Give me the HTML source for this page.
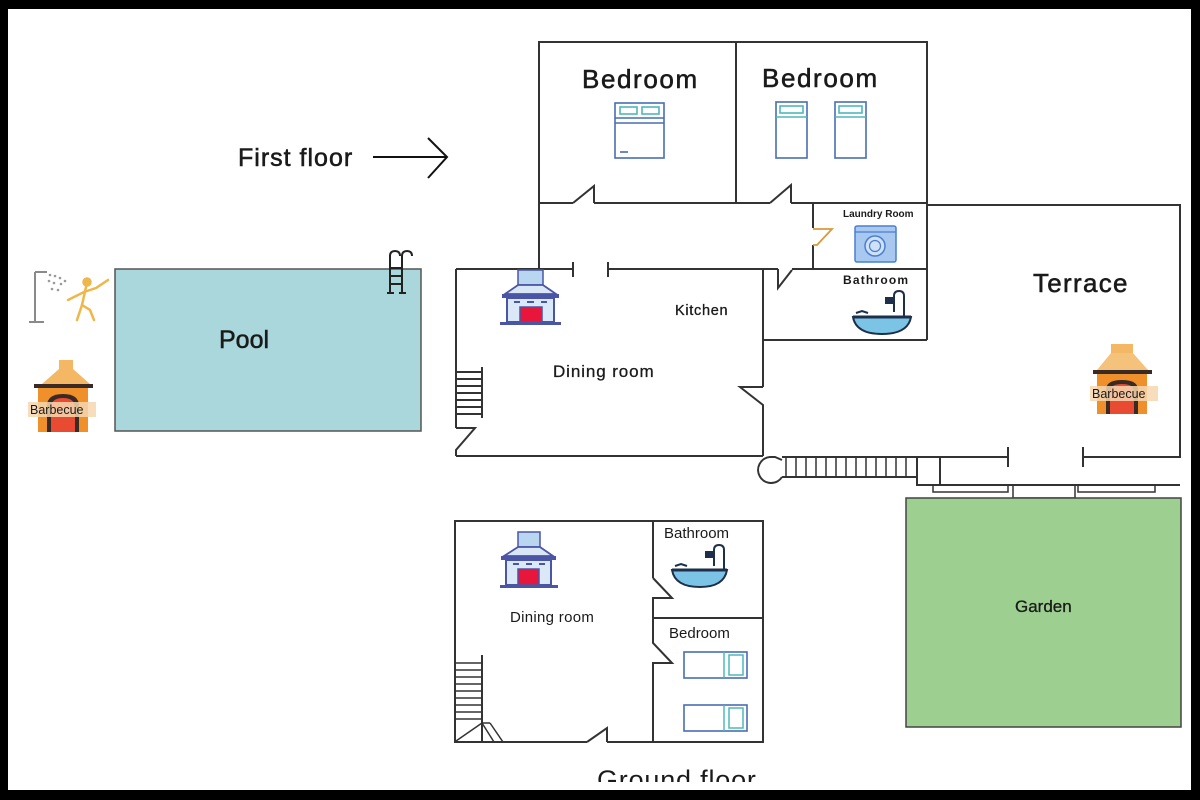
<!DOCTYPE html>
<html><head><meta charset="utf-8"><style>
html,body{margin:0;padding:0;background:#000;}
svg{display:block;}
text{font-family:"Liberation Sans",sans-serif;fill:#1a1a1a;}
.big{stroke:#1a1a1a;stroke-width:0.55;}
.mid{stroke:#1a1a1a;stroke-width:0.3;}
</style></head><body>
<svg width="1200" height="800" viewBox="0 0 1200 800" xmlns="http://www.w3.org/2000/svg">
<defs>
<clipPath id="gclip"><rect x="0" y="700" width="1200" height="82"/></clipPath>
</defs>
<rect x="0" y="0" width="1200" height="800" fill="#000"/>
<rect x="8" y="9" width="1183" height="781" fill="#fff"/>

<!-- First floor label + arrow -->
<text class="big" x="238" y="166" font-size="25" letter-spacing="1">First floor</text>
<line x1="373" y1="157" x2="447" y2="157" stroke="#111" stroke-width="2"/>
<polyline points="428,138 447,157 428,178" fill="none" stroke="#111" stroke-width="2"/>

<!-- Pool -->
<rect x="115" y="269" width="306" height="162" fill="#a9d7dc" stroke="#555" stroke-width="1.5"/>
<text class="big" x="219" y="348" font-size="25">Pool</text>
<!-- ladder -->
<g fill="none" stroke="#222" stroke-width="2">
<path d="M390,293 V256 Q390,251 395,251 Q400,251 400,256"/>
<path d="M402,293 V256 Q402,251 407,251 Q412,251 412,256"/>
<line x1="390" y1="268" x2="402" y2="268"/>
<line x1="390" y1="276" x2="402" y2="276"/>
<line x1="390" y1="284" x2="402" y2="284"/>
<line x1="387" y1="293" x2="394" y2="293"/>
<line x1="399" y1="293" x2="406" y2="293"/>
</g>

<!-- Shower -->
<g stroke="#8a8a8a" stroke-width="2" fill="none">
<line x1="35" y1="272" x2="35" y2="322"/>
<line x1="29" y1="322" x2="44" y2="322"/>
<line x1="35" y1="272" x2="47" y2="272"/>
</g>
<g fill="#9a9a9a">
<circle cx="50" cy="275" r="1.3"/><circle cx="55" cy="276" r="1.3"/><circle cx="60" cy="278" r="1.3"/>
<circle cx="49" cy="281" r="1.3"/><circle cx="54" cy="283" r="1.3"/><circle cx="61" cy="284" r="1.3"/>
<circle cx="52" cy="289" r="1.3"/><circle cx="58" cy="290" r="1.3"/><circle cx="65" cy="281" r="1.3"/>
</g>
<g stroke="#efb64a" stroke-width="2.5" fill="none" stroke-linecap="round">
<circle cx="87" cy="282" r="3.5" fill="#efb64a"/>
<path d="M86,287 L82,305"/>
<path d="M68,300 L84,292 L96,288 L108,280"/>
<path d="M82,305 L77,320"/>
<path d="M82,305 L90,310 L94,320"/>
</g>

<!-- Left barbecue -->
<g>
<rect x="59" y="360" width="14" height="9" fill="#f4b764"/>
<polygon points="59,369 73,369 90,384 42,384" fill="#f4b764"/>
<rect x="34" y="384" width="59" height="4" fill="#3a2a25"/>
<rect x="38" y="388" width="50" height="44" fill="#f0902a"/>
<path d="M47,432 V406 Q47,394 63,394 Q79,394 79,406 V432 Z" fill="#3a2a25"/>
<path d="M51,432 V408 Q51,398 63,398 Q75,398 75,408 V432 Z" fill="#e84a32"/>
<rect x="28" y="402" width="68" height="15" fill="#f6d7b0" opacity="0.85"/>
<text x="30" y="414" font-size="12.5" fill="#222">Barbecue</text>
</g>

<!-- ===== FIRST FLOOR PLAN ===== -->
<g stroke="#333" stroke-width="2" fill="none">
<polyline points="539,203 539,42 927,42 927,340"/>
<line x1="736" y1="42" x2="736" y2="203"/>
<line x1="539" y1="203" x2="573" y2="203"/>
<polyline points="573,203 594,186 594,203"/>
<line x1="594" y1="203" x2="770" y2="203"/>
<polyline points="770,203 791,185 791,203"/>
<line x1="791" y1="203" x2="927" y2="203"/>
<line x1="539" y1="203" x2="539" y2="269"/>
<line x1="456" y1="269" x2="573" y2="269"/>
<line x1="573" y1="262" x2="573" y2="277"/>
<line x1="608" y1="262" x2="608" y2="277"/>
<line x1="608" y1="269" x2="778" y2="269"/>
<polyline points="778,269 778,288 792,270"/>
<line x1="792" y1="269" x2="927" y2="269"/>
<line x1="813" y1="204" x2="813" y2="228"/>
<line x1="813" y1="245" x2="813" y2="269"/>
<line x1="763" y1="340" x2="927" y2="340"/>
<line x1="456" y1="269" x2="456" y2="428"/>
<polyline points="456,428 475,428 456,450 456,456"/>
<line x1="456" y1="456" x2="763" y2="456"/>
<line x1="763" y1="269" x2="763" y2="387"/>
<polyline points="763,387 740,387 763,405 763,456"/>
<line x1="482" y1="367" x2="482" y2="418"/>
<line x1="456" y1="372" x2="482" y2="372"/>
<line x1="456" y1="379" x2="482" y2="379"/>
<line x1="456" y1="386" x2="482" y2="386"/>
<line x1="456" y1="393" x2="482" y2="393"/>
<line x1="456" y1="400" x2="482" y2="400"/>
<line x1="456" y1="407" x2="482" y2="407"/>
<line x1="456" y1="414" x2="482" y2="414"/>
<polyline points="927,205 1180,205 1180,457 1083,457"/>
<line x1="1083" y1="447" x2="1083" y2="467"/>
<line x1="1008" y1="447" x2="1008" y2="467"/>
<line x1="1008" y1="457" x2="917" y2="457"/>
<path d="M782,460 L775,457 L770,457 A13,13 0 1,0 782,477"/>
<line x1="782" y1="457" x2="917" y2="457"/>
<line x1="782" y1="477" x2="917" y2="477"/>
<rect x="917" y="457" width="23" height="28"/>
<line x1="940" y1="485" x2="1180" y2="485"/>
</g>
<g stroke="#333" stroke-width="1.5" fill="none">
<line x1="786" y1="457" x2="786" y2="477"/><line x1="796" y1="457" x2="796" y2="477"/>
<line x1="806" y1="457" x2="806" y2="477"/><line x1="816" y1="457" x2="816" y2="477"/>
<line x1="826" y1="457" x2="826" y2="477"/><line x1="836" y1="457" x2="836" y2="477"/>
<line x1="846" y1="457" x2="846" y2="477"/><line x1="856" y1="457" x2="856" y2="477"/>
<line x1="866" y1="457" x2="866" y2="477"/><line x1="876" y1="457" x2="876" y2="477"/>
<line x1="886" y1="457" x2="886" y2="477"/><line x1="896" y1="457" x2="896" y2="477"/>
<line x1="906" y1="457" x2="906" y2="477"/>
<rect x="933" y="485" width="75" height="7"/>
<rect x="1013" y="485" width="62" height="13"/>
<rect x="1078" y="485" width="77" height="7"/>
</g>
<polyline points="813,229 832,229 817,245 813,245" fill="none" stroke="#d99a3a" stroke-width="1.8"/>

<!-- Labels first floor -->
<text class="big" x="582" y="88" font-size="26" letter-spacing="1.6">Bedroom</text>
<text class="big" x="762" y="87" font-size="26" letter-spacing="1.6">Bedroom</text>
<text class="mid" x="675" y="315" font-size="14.5" letter-spacing="0.7">Kitchen</text>
<text class="mid" x="553" y="377" font-size="17" letter-spacing="0.9">Dining room</text>
<text x="843" y="217" font-size="10" font-weight="bold" fill="#333">Laundry Room</text>
<text x="843" y="284" font-size="12" font-weight="bold" letter-spacing="1.2" fill="#333">Bathroom</text>
<text class="big" x="1033" y="292" font-size="26" letter-spacing="1.3">Terrace</text>

<!-- beds first floor -->
<g fill="none" stroke="#4a6db3" stroke-width="1.6">
<rect x="615" y="103" width="49" height="55"/>
<line x1="615" y1="118" x2="664" y2="118"/>
<line x1="615" y1="123" x2="664" y2="123"/>
<line x1="620" y1="152" x2="628" y2="152"/>
<rect x="776" y="102" width="31" height="56"/>
<rect x="835" y="102" width="31" height="56"/>
</g>
<g fill="none" stroke="#4fb8bc" stroke-width="1.6">
<rect x="620" y="107" width="17" height="7"/>
<rect x="642" y="107" width="17" height="7"/>
<rect x="780" y="106" width="23" height="7"/>
<line x1="776" y1="117" x2="807" y2="117"/>
<rect x="839" y="106" width="23" height="7"/>
<line x1="835" y1="117" x2="866" y2="117"/>
</g>

<!-- fireplace first floor -->
<g>
<rect x="518" y="270" width="25" height="15" fill="#b9d6f0" stroke="#4a55a5" stroke-width="1.5"/>
<polygon points="518,285 543,285 556,294 505,294" fill="#d8e6f6" stroke="#4a55a5" stroke-width="1.8"/>
<rect x="502" y="294" width="57" height="4" fill="#4a55a5"/>
<rect x="507" y="298" width="47" height="24" fill="#dbe8f7" stroke="#4a55a5" stroke-width="2"/>
<line x1="514" y1="302" x2="520" y2="302" stroke="#4a55a5" stroke-width="2"/>
<line x1="527" y1="302" x2="534" y2="302" stroke="#4a55a5" stroke-width="2"/>
<line x1="541" y1="302" x2="547" y2="302" stroke="#4a55a5" stroke-width="2"/>
<rect x="520" y="307" width="22" height="15" fill="#e8163a" stroke="#4a55a5" stroke-width="1.5"/>
<rect x="500" y="322" width="61" height="3" fill="#4a55a5"/>
</g>

<!-- washing machine -->
<rect x="855" y="226" width="41" height="36" rx="2" fill="#a8c8ef" stroke="#4a7fd0" stroke-width="1.5"/>
<line x1="855" y1="232" x2="896" y2="232" stroke="#4a7fd0" stroke-width="1.2"/>
<circle cx="875" cy="246" r="10" fill="#cfe0f7" stroke="#4a7fd0" stroke-width="1.5"/>
<circle cx="875" cy="246" r="5.5" fill="none" stroke="#4a7fd0" stroke-width="1.2"/>

<!-- bathtub first floor -->
<g>
<path d="M894,312 V296 Q894,291 899,291 Q904,291 904,296 V318" fill="none" stroke="#1d2f4a" stroke-width="2"/>
<rect x="885" y="297" width="8" height="7" fill="#1d2f4a"/>
<path d="M853,317 H911 Q908,334 882,334 Q856,334 853,317 Z" fill="#7cc4e6" stroke="#1d2f4a" stroke-width="2"/>
<line x1="853" y1="317" x2="911" y2="317" stroke="#1d2f4a" stroke-width="3"/>
<path d="M856,313 L862,311 L868,313" fill="none" stroke="#1d2f4a" stroke-width="2"/>
</g>

<!-- Terrace barbecue -->
<g>
<rect x="1111" y="344" width="22" height="9" fill="#f4b764"/>
<polygon points="1111,353 1133,353 1148,370 1097,370" fill="#f4c27a"/>
<rect x="1093" y="370" width="59" height="4" fill="#3a2a25"/>
<rect x="1097" y="374" width="50" height="40" fill="#f0902a"/>
<path d="M1106,414 V390 Q1106,380 1122,380 Q1138,380 1138,390 V414 Z" fill="#3a2a25"/>
<path d="M1110,414 V392 Q1110,384 1122,384 Q1134,384 1134,392 V414 Z" fill="#e84a32"/>
<rect x="1090" y="386" width="68" height="15" fill="#f6d7b0" opacity="0.85"/>
<text x="1092" y="398" font-size="12.5" fill="#222">Barbecue</text>
</g>

<!-- Garden -->
<rect x="906" y="498" width="275" height="229" fill="#9dcf90" stroke="#444" stroke-width="1.5"/>
<text class="mid" x="1015" y="612" font-size="17">Garden</text>

<!-- ===== GROUND FLOOR ===== -->
<g stroke="#333" stroke-width="2" fill="none">
<polyline points="587,742 455,742 455,521 763,521 763,742 607,742"/>
<polyline points="587,742 607,728 607,742"/>
<line x1="653" y1="521" x2="653" y2="578"/>
<polyline points="653,578 672,598 653,598 653,643 672,663 653,663 653,742"/>
<line x1="653" y1="618" x2="763" y2="618"/>
<line x1="482" y1="655" x2="482" y2="742"/>
</g>
<g stroke="#333" stroke-width="1.5" fill="none">
<line x1="455" y1="663" x2="482" y2="663"/><line x1="455" y1="670" x2="482" y2="670"/>
<line x1="455" y1="677" x2="482" y2="677"/><line x1="455" y1="684" x2="482" y2="684"/>
<line x1="455" y1="691" x2="482" y2="691"/><line x1="455" y1="698" x2="482" y2="698"/>
<line x1="455" y1="705" x2="482" y2="705"/><line x1="455" y1="712" x2="482" y2="712"/>
<line x1="455" y1="719" x2="482" y2="719"/>
<line x1="482" y1="723" x2="456" y2="741"/>
<line x1="482" y1="723" x2="494" y2="742"/>
<line x1="482" y1="723" x2="490" y2="723"/>
<line x1="490" y1="723" x2="503" y2="742"/>
</g>

<!-- ground fireplace -->
<g>
<rect x="518" y="532" width="22" height="15" fill="#b9d6f0" stroke="#4a55a5" stroke-width="1.5"/>
<polygon points="518,547 540,547 553,556 504,556" fill="#d8e6f6" stroke="#4a55a5" stroke-width="1.8"/>
<rect x="501" y="556" width="55" height="4" fill="#4a55a5"/>
<rect x="506" y="560" width="45" height="25" fill="#dbe8f7" stroke="#4a55a5" stroke-width="2"/>
<line x1="513" y1="564" x2="519" y2="564" stroke="#4a55a5" stroke-width="2"/>
<line x1="526" y1="564" x2="532" y2="564" stroke="#4a55a5" stroke-width="2"/>
<line x1="539" y1="564" x2="545" y2="564" stroke="#4a55a5" stroke-width="2"/>
<rect x="518" y="569" width="21" height="16" fill="#e8163a" stroke="#4a55a5" stroke-width="1.5"/>
<rect x="500" y="585" width="58" height="3" fill="#4a55a5"/>
</g>

<!-- ground bathtub -->
<g>
<path d="M714,566 V550 Q714,545 719,545 Q724,545 724,550 V572" fill="none" stroke="#1d2f4a" stroke-width="2"/>
<rect x="705" y="551" width="8" height="7" fill="#1d2f4a"/>
<path d="M672,570 H727 Q724,587 700,587 Q675,587 672,570 Z" fill="#7cc4e6" stroke="#1d2f4a" stroke-width="2"/>
<line x1="672" y1="570" x2="727" y2="570" stroke="#1d2f4a" stroke-width="3"/>
<path d="M675,566 L681,564 L687,566" fill="none" stroke="#1d2f4a" stroke-width="2"/>
</g>

<!-- ground beds -->
<g fill="none" stroke="#4a6db3" stroke-width="1.6">
<rect x="684" y="652" width="63" height="26"/>
<rect x="684" y="705" width="63" height="26"/>
</g>
<g fill="none" stroke="#4fb8bc" stroke-width="1.5">
<line x1="724" y1="652" x2="724" y2="678"/>
<rect x="729" y="655" width="14" height="20"/>
<line x1="724" y1="705" x2="724" y2="731"/>
<rect x="729" y="708" width="14" height="20"/>
</g>

<!-- ground labels -->
<text x="510" y="622" font-size="15" letter-spacing="0.3">Dining room</text>
<text x="664" y="538" font-size="15">Bathroom</text>
<text x="669" y="638" font-size="15">Bedroom</text>
<text x="597" y="789" font-size="27" letter-spacing="0.8" clip-path="url(#gclip)">Ground floor</text>

<rect x="0" y="790" width="1200" height="10" fill="#000"/>
</svg>
</body></html>
